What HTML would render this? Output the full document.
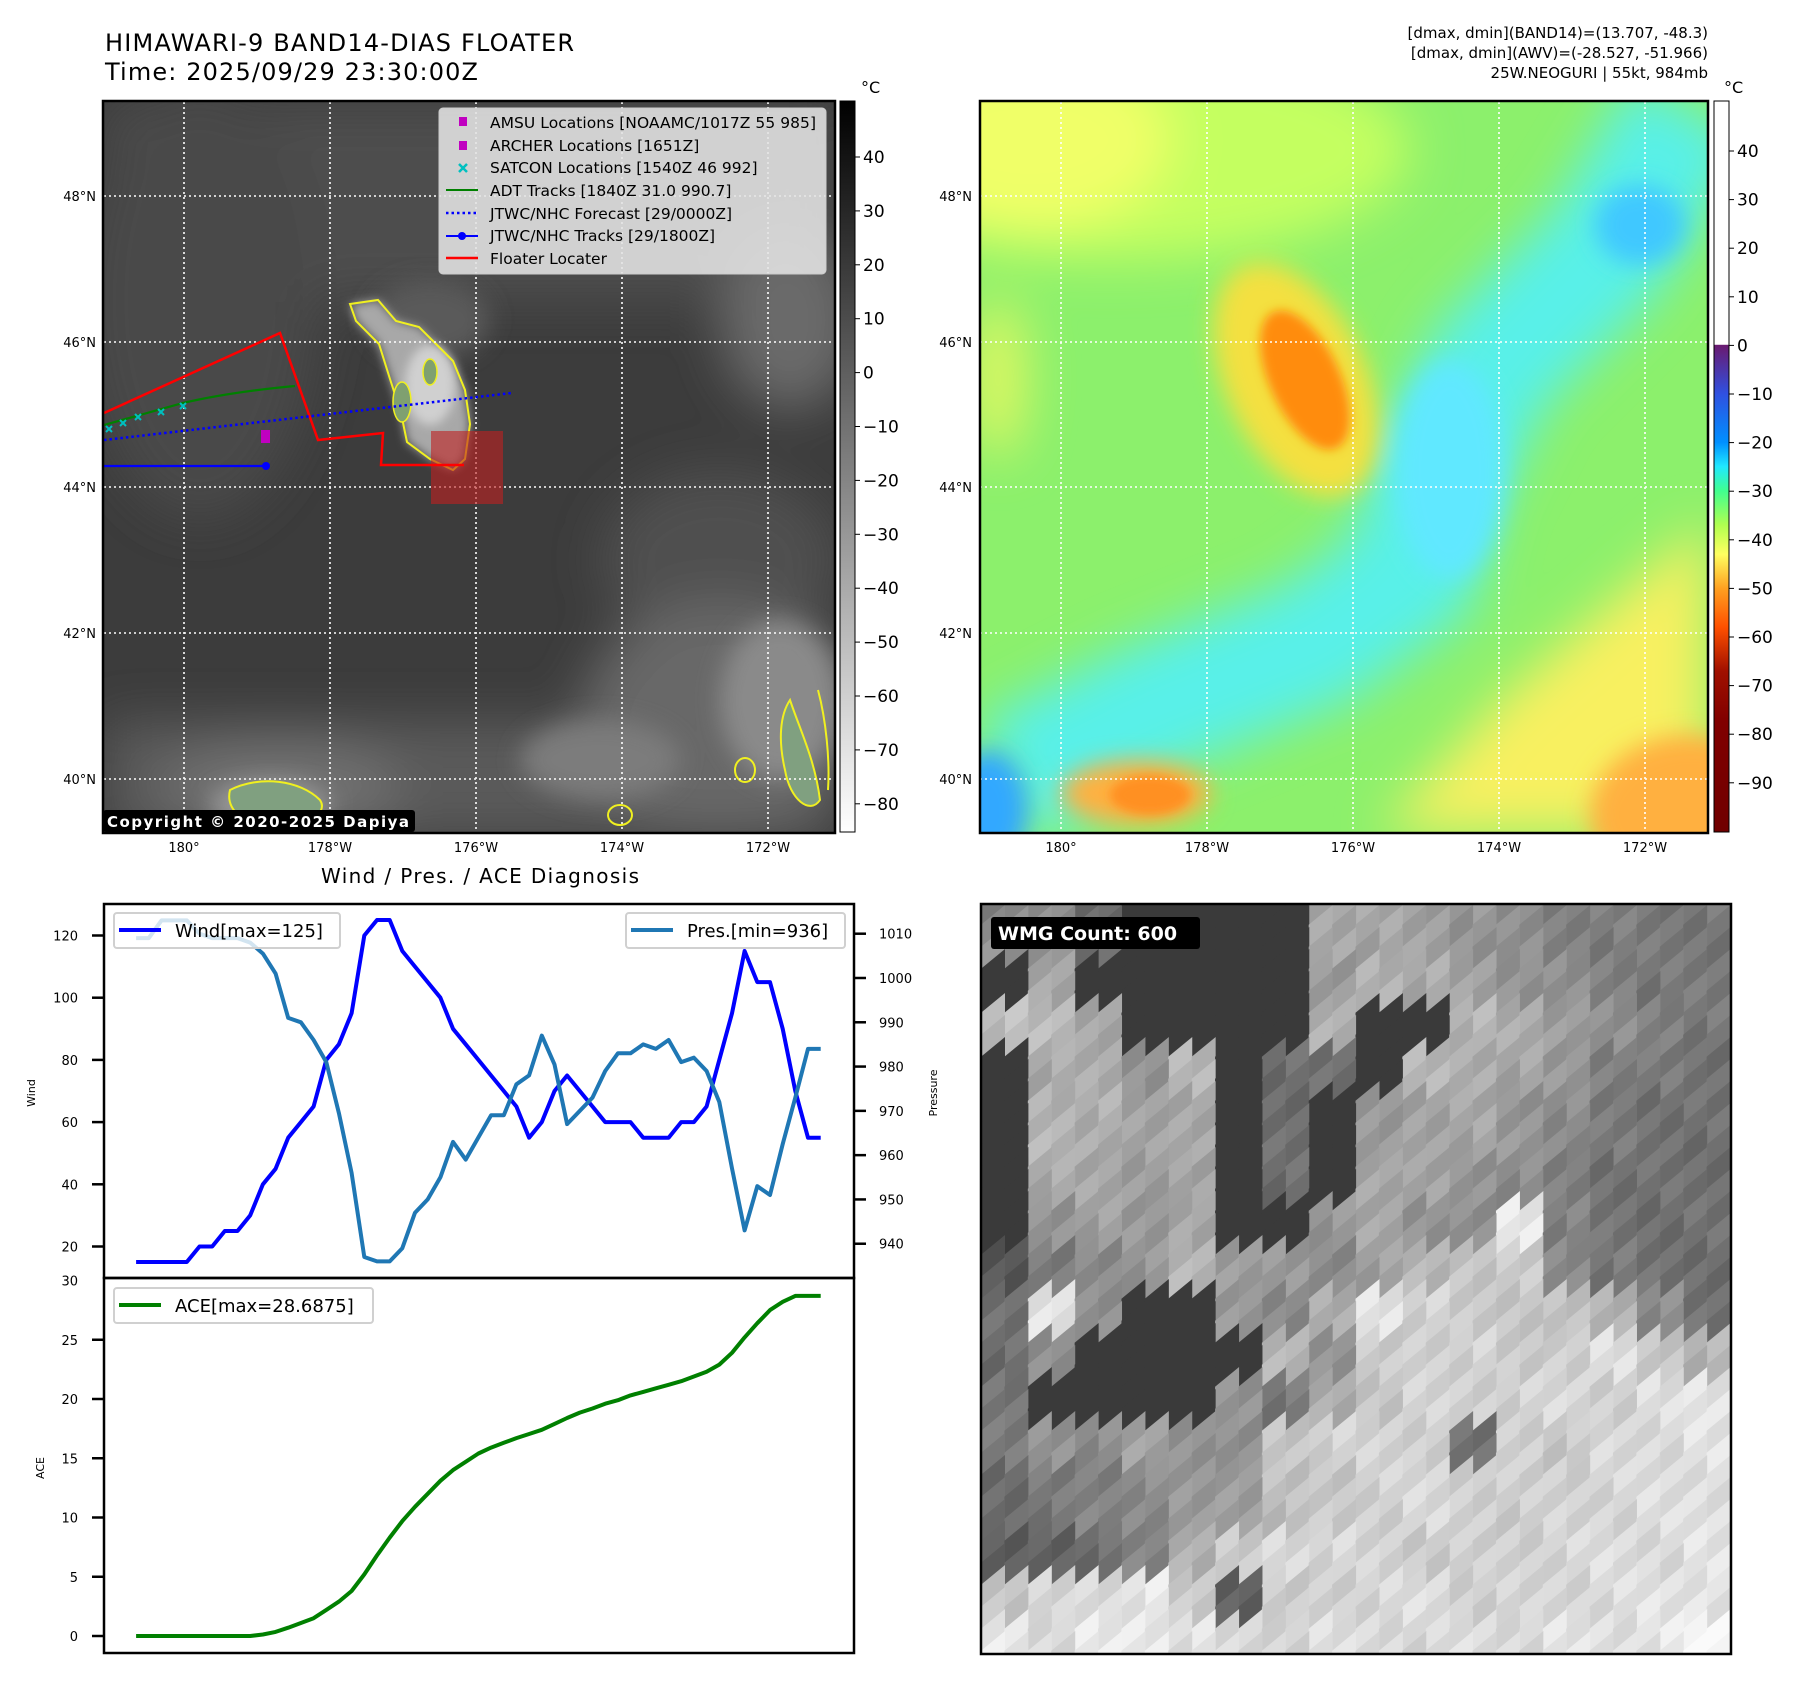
<!DOCTYPE html>
<html><head><meta charset="utf-8"><title>HIMAWARI-9 BAND14 Floater</title>
<style>html,body{margin:0;padding:0;background:#fff}svg{display:block}text{font-family:"DejaVu Sans","Liberation Sans",sans-serif}</style>
</head><body>
<svg id="root" width="1797" height="1690" viewBox="0 0 1797 1690" xmlns="http://www.w3.org/2000/svg">
<defs>
<filter id="b12" x="-30%" y="-30%" width="160%" height="160%"><feGaussianBlur stdDeviation="12"/></filter>
<filter id="b6" x="-30%" y="-30%" width="160%" height="160%"><feGaussianBlur stdDeviation="5"/></filter>
<filter id="b25" x="-30%" y="-30%" width="160%" height="160%"><feGaussianBlur stdDeviation="25"/></filter>
<clipPath id="c1"><rect x="104" y="102" width="730" height="730"/></clipPath>
<clipPath id="c2"><rect x="980" y="102" width="727" height="730"/></clipPath>
<clipPath id="c3"><rect x="981" y="905" width="749" height="748"/></clipPath>
<linearGradient id="cbg" x1="0" y1="0" x2="0" y2="1"><stop offset="0" stop-color="#000"/><stop offset="1" stop-color="#fff"/></linearGradient>
<linearGradient id="cbc" x1="0" y1="0" x2="0" y2="1">
<stop offset="0" stop-color="#fff"/><stop offset="0.333" stop-color="#fff"/><stop offset="0.334" stop-color="#6a1a70"/>
<stop offset="0.40" stop-color="#3050e0"/><stop offset="0.467" stop-color="#0090ff"/><stop offset="0.50" stop-color="#20e8ff"/>
<stop offset="0.533" stop-color="#40ff90"/><stop offset="0.58" stop-color="#b0ff50"/><stop offset="0.62" stop-color="#ffff60"/>
<stop offset="0.667" stop-color="#ffa020"/><stop offset="0.72" stop-color="#ff5000"/><stop offset="0.78" stop-color="#a01000"/>
<stop offset="0.85" stop-color="#800000"/><stop offset="1" stop-color="#700000"/></linearGradient>
</defs>

<!-- Titles -->
<text x="105" y="51" font-size="24" textLength="469">HIMAWARI-9 BAND14-DIAS FLOATER</text>
<text x="105" y="80" font-size="24" textLength="373">Time: 2025/09/29 23:30:00Z</text>
<text x="1708" y="38" font-size="15" text-anchor="end">[dmax, dmin](BAND14)=(13.707, -48.3)</text>
<text x="1708" y="58" font-size="15" text-anchor="end">[dmax, dmin](AWV)=(-28.527, -51.966)</text>
<text x="1708" y="78" font-size="15" text-anchor="end">25W.NEOGURI | 55kt, 984mb</text>

<!-- MAP 1 IR -->
<g clip-path="url(#c1)">
<rect x="104" y="102" width="730" height="730" fill="#3c3c3c"/>
<g filter="url(#b25)">
<rect x="104" y="102" width="730" height="200" fill="#4e4e4e"/>
<ellipse cx="200" cy="300" rx="120" ry="220" fill="#4a4a4a"/>
<ellipse cx="790" cy="320" rx="70" ry="90" fill="#6a6a6a"/>
<ellipse cx="720" cy="560" rx="120" ry="90" fill="#505050"/>
<rect x="104" y="720" width="730" height="120" fill="#5a5a5a"/>
<ellipse cx="720" cy="720" rx="140" ry="120" fill="#686868"/>
<ellipse cx="280" cy="790" rx="120" ry="50" fill="#707070"/>
</g>
<g filter="url(#b12)">
<ellipse cx="600" cy="760" rx="80" ry="40" fill="#7c7c7c"/>
<ellipse cx="780" cy="700" rx="60" ry="80" fill="#8a8a8a"/>
<ellipse cx="270" cy="805" rx="60" ry="25" fill="#9a9a9a"/>
<ellipse cx="430" cy="320" rx="60" ry="40" fill="#5a5a5a"/>
</g>
<polygon filter="url(#b6)" points="350,304 378,300 396,321 419,327 436,344 453,361 465,390 470,424 465,459 453,470 430,459 407,442 401,413 390,379 379,344 356,321" fill="#a8a8a8"/>
<ellipse filter="url(#b6)" cx="430" cy="385" rx="25" ry="40" fill="#d0d0d0"/>
<polygon points="350,304 378,300 396,321 419,327 436,344 453,361 465,390 470,424 465,459 453,470 430,459 407,442 401,413 390,379 379,344 356,321" fill="none" stroke="#f0f020" stroke-width="2"/>
<ellipse cx="402" cy="402" rx="9" ry="20" fill="#7fa070" stroke="#f0f020" stroke-width="1.5"/>
<ellipse cx="430" cy="372" rx="7" ry="13" fill="#7fa070" stroke="#f0f020" stroke-width="1.5"/>
<path d="M230,790 C260,775 300,780 320,800 C330,815 300,830 270,828 C245,825 225,810 230,790Z" fill="#80a080" stroke="#f0f020" stroke-width="2"/>
<path d="M790,700 C800,730 815,760 820,800 C810,815 790,800 785,770 C778,740 780,715 790,700Z" fill="#80a080" stroke="#f0f020" stroke-width="2"/>
<path d="M818,690 C826,720 830,760 828,790" fill="none" stroke="#f0f020" stroke-width="2"/>
<ellipse cx="620" cy="815" rx="12" ry="10" fill="none" stroke="#f0f020" stroke-width="2"/>
<ellipse cx="745" cy="770" rx="10" ry="12" fill="none" stroke="#f0f020" stroke-width="2"/>
<g stroke="#fff" stroke-width="1.6" stroke-dasharray="2,3">
<line x1="184" y1="102" x2="184" y2="832"/><line x1="330" y1="102" x2="330" y2="832"/><line x1="476" y1="102" x2="476" y2="832"/><line x1="622" y1="102" x2="622" y2="832"/><line x1="768" y1="102" x2="768" y2="832"/>
<line x1="104" y1="196" x2="834" y2="196"/><line x1="104" y1="342" x2="834" y2="342"/><line x1="104" y1="487" x2="834" y2="487"/><line x1="104" y1="633" x2="834" y2="633"/><line x1="104" y1="779" x2="834" y2="779"/>
</g>
<rect x="431" y="431" width="72" height="73" fill="#c02020" opacity="0.6"/>
<polyline points="104,413 280,333 318,440 383,433 381,465 464,465" fill="none" stroke="#ff0000" stroke-width="2.5"/>
<path d="M104,425 L183,403 Q230,392 295,386" fill="none" stroke="#008000" stroke-width="2.2"/>
<line x1="104" y1="440" x2="512" y2="393" stroke="#0000ff" stroke-width="2.5" stroke-dasharray="2.5,3"/>
<line x1="104" y1="466" x2="266" y2="466" stroke="#0000ff" stroke-width="2.2"/>
<circle cx="266" cy="466" r="4" fill="#0000ff"/>
<rect x="261" y="430" width="9" height="13" fill="#c000c0"/>
<g stroke="#00c0c0" stroke-width="2">
<path d="M106,426 l6,6 M112,426 l-6,6"/><path d="M120,420 l6,6 M126,420 l-6,6"/><path d="M135,414 l6,6 M141,414 l-6,6"/><path d="M158,409 l6,6 M164,409 l-6,6"/><path d="M180,403 l6,6 M186,403 l-6,6"/>
</g>
</g>
<rect x="103" y="101" width="732" height="732" fill="none" stroke="#000" stroke-width="2.5"/>
<!-- legend -->
<g>
<rect x="439" y="108" width="387" height="166" rx="4" fill="#e4e4e4" fill-opacity="0.88" stroke="#cccccc"/>
<rect x="459" y="117" width="8" height="9" fill="#c000c0"/>
<rect x="459" y="141" width="8" height="9" fill="#c000c0"/>
<path d="M459,164 l8,8 M467,164 l-8,8" stroke="#00c0c0" stroke-width="2.5"/>
<line x1="446" y1="190" x2="478" y2="190" stroke="#008000" stroke-width="2"/>
<line x1="446" y1="213" x2="478" y2="213" stroke="#0000ff" stroke-width="2.5" stroke-dasharray="2.5,3"/>
<line x1="446" y1="236" x2="478" y2="236" stroke="#0000ff" stroke-width="2"/><circle cx="462" cy="236" r="4" fill="#0000ff"/>
<line x1="446" y1="258" x2="478" y2="258" stroke="#ff0000" stroke-width="2.5"/>
<g font-size="15.5">
<text x="490" y="128" textLength="326">AMSU Locations [NOAAMC/1017Z 55 985]</text>
<text x="490" y="151">ARCHER Locations [1651Z]</text>
<text x="490" y="173">SATCON Locations [1540Z 46 992]</text>
<text x="490" y="196">ADT Tracks [1840Z 31.0 990.7]</text>
<text x="490" y="219">JTWC/NHC Forecast [29/0000Z]</text>
<text x="490" y="241">JTWC/NHC Tracks [29/1800Z]</text>
<text x="490" y="264">Floater Locater</text>
</g></g>
<rect x="103" y="810" width="312" height="22" rx="3" fill="#000"/>
<text x="107" y="827" font-size="15" font-weight="bold" fill="#fff" textLength="302">Copyright © 2020-2025 Dapiya</text>

<!-- colorbar 1 -->
<rect x="840" y="101" width="15" height="731" fill="url(#cbg)" stroke="#000" stroke-width="1"/>
<text x="861" y="93" font-size="16">°C</text>
<g id="cb1labels" font-size="17"></g>

<!-- MAP 2 AWV -->
<g clip-path="url(#c2)">
<rect x="980" y="102" width="727" height="730" fill="#8cf06c"/>
<g filter="url(#b25)">
<ellipse cx="1110" cy="150" rx="300" ry="110" fill="#c4ff60"/>
<ellipse cx="1030" cy="140" rx="140" ry="90" fill="#f0ff68"/>
<polyline points="1690,110 1606,252 1491,367 1434,482 1411,574 1319,642 1147,711 1009,780" fill="none" stroke="#58f0e8" stroke-width="130"/>
<polygon points="1707,520 1500,700 1380,832 1707,832" fill="#f8f060"/>
<ellipse cx="998" cy="378" rx="25" ry="80" fill="#e8f860"/>
</g>
<g filter="url(#b12)">
<ellipse cx="1640" cy="225" rx="45" ry="40" fill="#40c8ff"/>
<ellipse cx="1450" cy="470" rx="55" ry="110" fill="#60e8ff"/>
<ellipse cx="988" cy="810" rx="40" ry="60" fill="#30a8ff"/>
<ellipse cx="1690" cy="815" rx="100" ry="80" fill="#ffb040"/>
<ellipse cx="1296" cy="380" rx="70" ry="125" transform="rotate(-25 1296 380)" fill="#f4e040"/>
<ellipse cx="1136" cy="793" rx="75" ry="32" fill="#ffb040"/>
</g>
<g filter="url(#b6)">
<ellipse cx="1305" cy="380" rx="35" ry="75" transform="rotate(-25 1305 380)" fill="#ff8c10"/>
<ellipse cx="1150" cy="795" rx="40" ry="20" fill="#ff9020"/>
</g>
<g stroke="#fff" stroke-width="1.6" stroke-dasharray="2,3">
<line x1="1061" y1="102" x2="1061" y2="832"/><line x1="1207" y1="102" x2="1207" y2="832"/><line x1="1353" y1="102" x2="1353" y2="832"/><line x1="1499" y1="102" x2="1499" y2="832"/><line x1="1645" y1="102" x2="1645" y2="832"/>
<line x1="980" y1="196" x2="1707" y2="196"/><line x1="980" y1="342" x2="1707" y2="342"/><line x1="980" y1="487" x2="1707" y2="487"/><line x1="980" y1="633" x2="1707" y2="633"/><line x1="980" y1="779" x2="1707" y2="779"/>
</g>
</g>
<rect x="980" y="101" width="728" height="732" fill="none" stroke="#000" stroke-width="2.5"/>
<rect x="1714" y="101" width="15" height="731" fill="url(#cbc)" stroke="#000" stroke-width="1"/>
<text x="1724" y="93" font-size="16">°C</text>
<g id="cb2labels" font-size="17"></g>
<g id="maplabels" font-size="13"></g>

<!-- WMG panel -->
<g clip-path="url(#c3)" id="wmg"><rect x="981" y="905" width="749" height="748" fill="#fff"/></g>
<rect x="981" y="904" width="750" height="750" fill="none" stroke="#000" stroke-width="2.5"/>
<rect x="991" y="917" width="209" height="32" rx="3" fill="#000"/>
<text x="998" y="940" font-size="19" font-weight="bold" fill="#fff">WMG Count: 600</text>

<!-- Diagnosis chart -->
<text x="480" y="883" font-size="20" text-anchor="middle" textLength="318">Wind / Pres. / ACE Diagnosis</text>
<g id="chart"></g>
</svg>
<script>
// ---------------- chart data ----------------
const windValues = [15,15,15,15,15,20,20,25,25,30,40,45,55,60,65,80,85,95,120,125,125,115,110,105,100,90,85,80,75,70,65,55,60,70,75,70,65,60,60,60,55,55,55,60,60,65,80,95,115,105,105,90,70,55,55];
const presValues = [1009,1009,1013,1013,1013,1010,1009,1009,1009,1008,1005.5,1001,991,990,986,981,969.5,956,937,936,936,939,947,950,955,963,959,964,969,969,976,978,987,980.5,967,970,973,979,983,983,985,984,986,981,982,979,972,957,943,953,951,962.5,973,984,984];
const aceValues = [0,0,0,0,0,0,0,0,0,0,0.13,0.35,0.7,1.1,1.5,2.2,2.9,3.8,5.2,6.8,8.3,9.7,10.9,12.0,13.1,14.0,14.7,15.4,15.9,16.3,16.7,17.05,17.4,17.9,18.4,18.85,19.2,19.6,19.9,20.3,20.6,20.9,21.2,21.5,21.9,22.3,22.9,23.9,25.2,26.4,27.5,28.2,28.7,28.7,28.7];
const windTicks = [20,40,60,80,100,120];
const presTicks = [940,950,960,970,980,990,1000,1010];
const aceTicks = [0,5,10,15,20,25,30];
const cb1Ticks = [40,30,20,10,0,-10,-20,-30,-40,-50,-60,-70,-80];
const cb2Ticks = [40,30,20,10,0,-10,-20,-30,-40,-50,-60,-70,-80,-90];
const latTicks = [48,46,44,42,40];
const lonTicks = ["180°","178°W","176°W","174°W","172°W"];

const NS = "http://www.w3.org/2000/svg";
function mk(tag, attrs, parent){const e=document.createElementNS(NS,tag);for(const k in attrs)e.setAttribute(k,attrs[k]);parent.appendChild(e);return e;}
// axis functions
const xScale = i => 136.1 + i * (820.7 - 136.1) / (windValues.length - 1);
const yWind = v => 935.5 + (120 - v) * 3.11;
const yPres = v => 933.7 + (1010 - v) * 4.429;
const yAce = v => 1636 - v * 11.85;
const yCb1 = v => 157 + (40 - v) * 5.39;
const yCb2 = v => 151 + (40 - v) * 4.86;

const chart = document.getElementById('chart');
function linePath(vals, yf){return vals.map((v,i)=>(i?'L':'M')+xScale(i).toFixed(1)+','+yf(v).toFixed(1)).join(' ');}

// axes frames
let f1 = mk('rect',{x:104,y:904,width:750,height:374,fill:'none',stroke:'#000','stroke-width':2.5},chart);


let f2 = mk('rect',{x:104,y:1278,width:750,height:375,fill:'none',stroke:'#000','stroke-width':2.5},chart);



windTicks.forEach(v=>{
  const y=yWind(v);
  mk('line',{x1:92,y1:y,x2:104,y2:y,stroke:'#000','stroke-width':2.5},chart);
  const t=mk('text',{x:78,y:y+5,'font-size':13,'text-anchor':'end'},chart);t.textContent=v;
  
  
});
presTicks.forEach(v=>{
  const y=yPres(v);
  mk('line',{x1:854,y1:y,x2:866,y2:y,stroke:'#000','stroke-width':2.5},chart);
  const t=mk('text',{x:879,y:y+5,'font-size':13},chart);t.textContent=v;
  
  
});
aceTicks.forEach(v=>{
  const y=yAce(v);
  if(v<30) mk('line',{x1:92,y1:y,x2:104,y2:y,stroke:'#000','stroke-width':2.5},chart);
  const t=mk('text',{x:78,y:y+5,'font-size':13,'text-anchor':'end'},chart);t.textContent=v;
  
  
});
let yl1=mk('text',{x:0,y:0,'font-size':11,'text-anchor':'middle',transform:'translate(35,1093) rotate(-90)'},chart);yl1.textContent='Wind';


let yl2=mk('text',{x:0,y:0,'font-size':11,'text-anchor':'middle',transform:'translate(44,1468) rotate(-90)'},chart);yl2.textContent='ACE';


let yl3=mk('text',{x:0,y:0,'font-size':11,'text-anchor':'middle',transform:'translate(937,1093) rotate(-90)'},chart);yl3.textContent='Pressure';



// series
const wl=mk('path',{d:linePath(windValues,yWind),fill:'none',stroke:'#0000ff','stroke-width':4,'stroke-linejoin':'round'},chart);


const pl=mk('path',{d:linePath(presValues,yPres),fill:'none',stroke:'#1f77b4','stroke-width':4,'stroke-linejoin':'round'},chart);


const al=mk('path',{d:linePath(aceValues,yAce),fill:'none',stroke:'#008000','stroke-width':4,'stroke-linejoin':'round'},chart);



// legends
function legend(x,y,w,color,label,name){
  const g=mk('g',{},chart);
  
  
  mk('rect',{x:x,y:y,width:w,height:35,rx:3,fill:'#fff','fill-opacity':0.8,stroke:'#d0d0d0','stroke-width':2},g);
  mk('line',{x1:x+5,y1:y+17,x2:x+47,y2:y+17,stroke:color,'stroke-width':4},g);
  const t=mk('text',{x:x+61,y:y+24,'font-size':18},g);t.textContent=label;
}
legend(114,913,226,'#0000ff','Wind[max=125]','wind-legend');
legend(626,913,219,'#1f77b4','Pres.[min=936]','pressure-legend');
legend(114,1288,259,'#008000','ACE[max=28.6875]','ace-legend');

// colorbar labels
const cb1=document.getElementById('cb1labels');
cb1Ticks.forEach(v=>{const y=yCb1(v);mk('line',{x1:855,y1:y,x2:860,y2:y,stroke:'#000'},cb1);
 const t=mk('text',{x:863,y:y+6},cb1);t.textContent=v<0?'\u2212'+(-v):v;
 
 });
const cb2=document.getElementById('cb2labels');
cb2Ticks.forEach(v=>{const y=yCb2(v);mk('line',{x1:1729,y1:y,x2:1734,y2:y,stroke:'#000'},cb2);
 const t=mk('text',{x:1737,y:y+6},cb2);t.textContent=v<0?'\u2212'+(-v):v;
 
 });

// map tick labels
const ml=document.getElementById('maplabels');
const latY=[196,342,487,633,779], lonX=[184,330,476,622,768];
latTicks.forEach((v,i)=>{[96,972].forEach(x=>{const t=mk('text',{x:x,y:latY[i]+5,'text-anchor':'end'},ml);t.textContent=v+'°N';
 
 });});
lonTicks.forEach((s,i)=>{[lonX[i],lonX[i]+877].forEach(x=>{const t=mk('text',{x:x,y:852,'text-anchor':'middle'},ml);t.textContent=s;
 
 });});

// WMG mesh image (brightness grid)
const wmgGrid = [
[150,140,110,58,58,58,58,170,165,160,150,140,130,125,120,120],
[58,170,58,58,58,58,58,150,180,170,160,150,140,130,120,120],
[190,185,170,58,58,58,58,180,58,58,180,170,160,140,130,120],
[58,170,170,150,180,58,110,110,58,180,175,165,150,130,120,115],
[58,180,175,160,170,58,110,58,150,165,165,150,140,120,115,112],
[58,170,165,160,160,58,110,58,170,160,150,140,125,115,112,112],
[58,150,160,150,170,58,58,150,165,150,140,235,130,115,112,112],
[90,120,140,150,180,160,150,140,160,180,200,200,140,120,112,112],
[110,230,140,58,58,150,140,170,230,210,200,200,190,180,140,112],
[110,140,58,58,58,58,180,150,200,210,210,200,210,220,200,180],
[120,58,58,58,58,150,120,170,200,210,210,210,215,210,220,230],
[120,150,140,160,150,140,200,210,210,210,110,210,200,215,220,225],
[110,120,130,140,150,160,190,200,210,215,210,205,210,215,220,225],
[90,100,110,130,180,200,220,215,210,205,205,210,215,220,220,225],
[200,210,220,230,200,100,200,210,215,220,210,210,215,220,225,230],
[230,220,230,235,225,215,215,220,220,215,220,220,225,225,230,250]];
const wmg=document.getElementById('wmg');
const cols=32, rows=34, x0=981, y0=905, W=749, H=748, cw=W/cols, ch=H/rows, k=ch*0.9;
for(let r=-2;r<rows+2;r++){for(let c=0;c<cols;c++){
  const xa=x0+c*cw, xb=xa+cw, ya=y0+r*ch+(cols-c)*0.0;
  const cx=(c+0.5)/cols, cy=Math.min(0.999,Math.max(0,(r+0.5)/rows));
  const gv=wmgGrid[Math.min(15,Math.floor(cy*16))][Math.min(15,Math.floor(cx*16))];
  const n=((c*7+r*13)%5-2)*6;
  const v=Math.max(40,Math.min(250,gv+(gv>60?n:0)));
  const p=mk('polygon',{points:`${xa},${ya+k} ${xb+0.6},${ya} ${xb+0.6},${ya+ch+0.6} ${xa},${ya+k+ch+0.6}`,fill:`rgb(${v},${v},${v})`},wmg);
}}
</script>
</body></html>
